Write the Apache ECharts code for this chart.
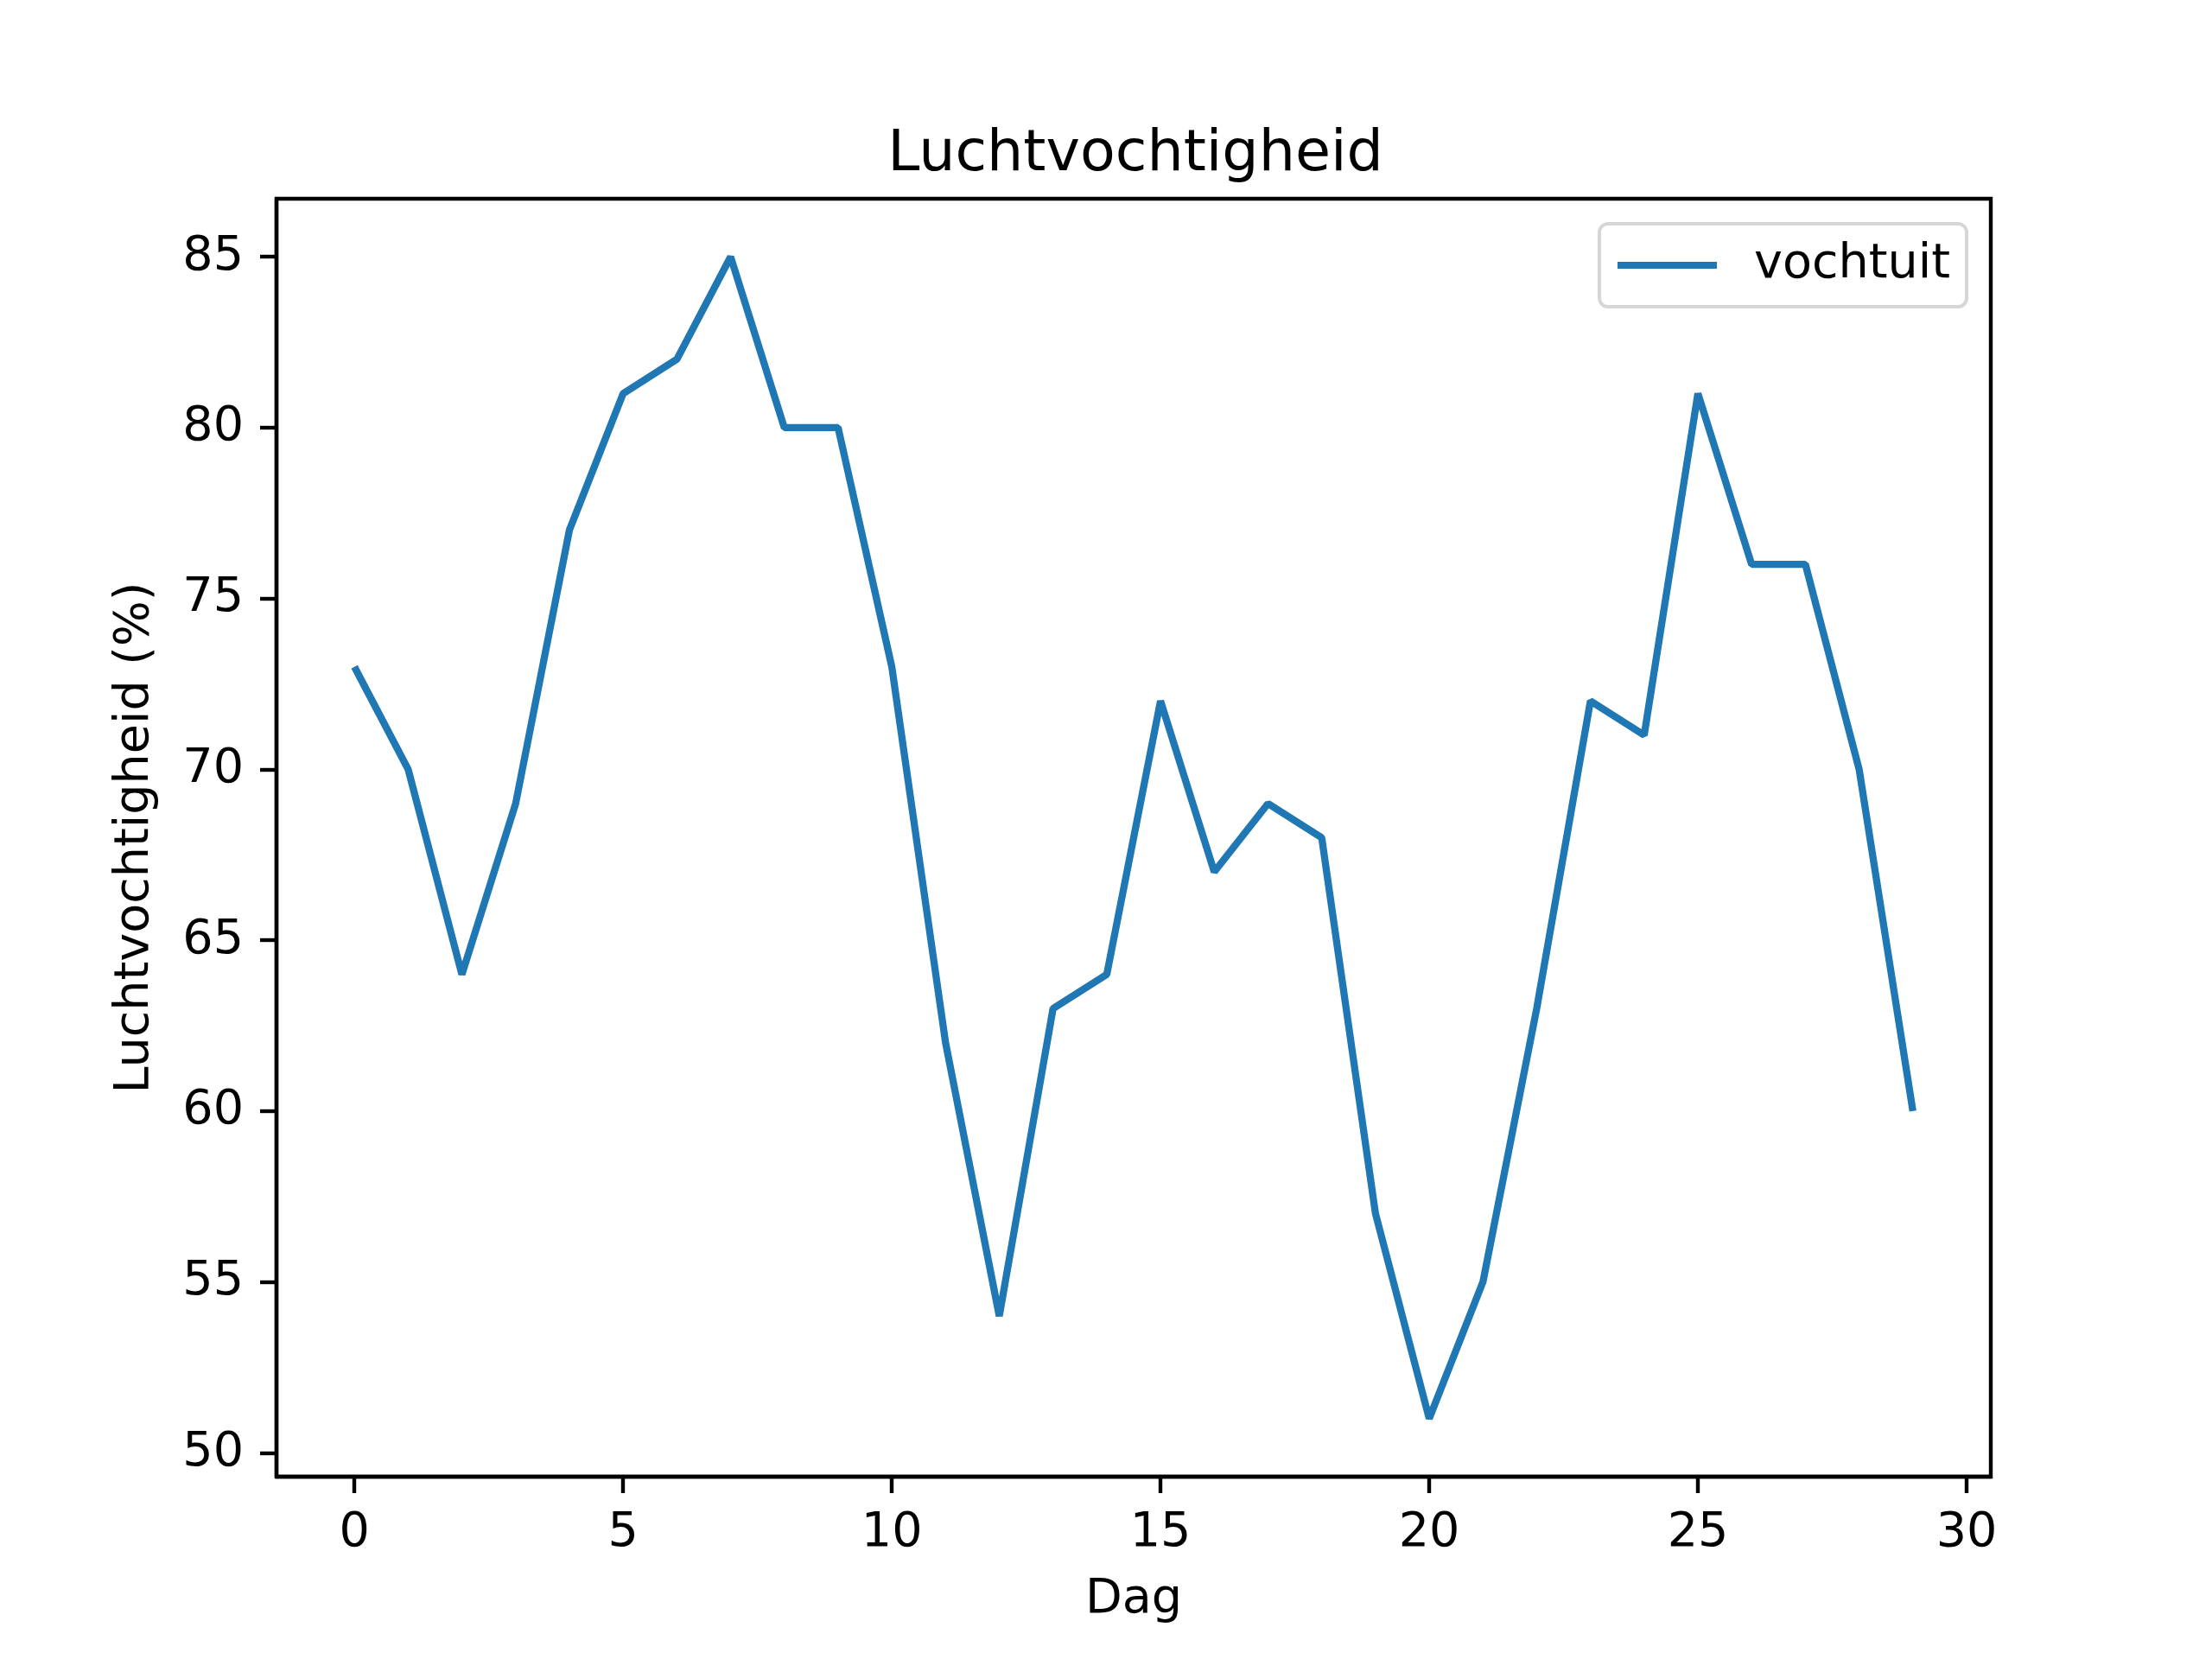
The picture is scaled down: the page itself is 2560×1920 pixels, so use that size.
<!DOCTYPE html>
<html><head><meta charset="utf-8">
<script src="https://cdn.jsdelivr.net/npm/echarts@6/dist/echarts.min.js"></script>
<style>html,body{margin:0;padding:0;background:#fff}#c{width:2560px;height:1920px}</style>
</head><body><div id="c"></div>
<script>
const days = [0,1,2,3,4,5,6,7,8,9,10,11,12,13,14,15,16,17,18,19,20,21,22,23,24,25,26,27,28,29];
const vochtuit = [73,70,64,69,77,81,82,85,80,80,73,62,54,63,64,72,67,69,68,57,51,55,63,72,71,81,76,76,70,60];
const xTicks = [0,5,10,15,20,25,30];
const yTicks = [50,55,60,65,70,75,80,85];

const F = 'DejaVu Sans';
const chart = echarts.init(document.getElementById('c'), null, {renderer:'canvas'});
chart.setOption({
  backgroundColor:'#fff',
  animation:false,
  title:{text:'Luchtvochtigheid', left:1309, textAlign:'center', top:141,
    textStyle:{fontFamily:F, fontSize:66.7, fontWeight:'normal', color:'#000'}},
  legend:{show:true, right:284, top:259, orient:'vertical',
    data:[{name:'vochtuit', icon:'rect'}],
    itemWidth:115, itemHeight:8,
    padding:[20,19,20,21],
    borderColor:'#d6d6d6', borderWidth:4, borderRadius:10, backgroundColor:'#fff',
    textStyle:{fontFamily:F, fontSize:55.6, color:'#000', padding:[0,0,0,38]}},
  grid:{left:320, right:256, top:230, bottom:211, show:true, borderColor:'#000', borderWidth:4.4, backgroundColor:'transparent'},
  xAxis:{type:'value', min:-1.45, max:30.45,
    name:'Dag', nameLocation:'middle', nameGap:115,
    nameTextStyle:{fontFamily:F, fontSize:55.6, color:'#000'},
    splitLine:{show:false}, axisLine:{show:true, onZero:false, lineStyle:{color:'#000', width:4.4}},
    axisTick:{show:true, customValues:xTicks, length:19, lineStyle:{color:'#000', width:4.4}},
    axisLabel:{customValues:xTicks, fontFamily:F, fontSize:55.6, color:'#000', margin:38}},
  yAxis:{type:'value', min:49.3, max:86.7,
    name:'Luchtvochtigheid (%)', nameLocation:'middle', nameGap:135, nameRotate:90,
    nameTextStyle:{fontFamily:F, fontSize:55.6, color:'#000'},
    splitLine:{show:false}, axisLine:{show:true, onZero:false, lineStyle:{color:'#000', width:4.4}},
    axisTick:{show:true, customValues:yTicks, length:19, lineStyle:{color:'#000', width:4.4}},
    axisLabel:{customValues:yTicks, fontFamily:F, fontSize:55.6, color:'#000', margin:38}},
  series:[{name:'vochtuit', type:'line', symbol:'none', color:'#1f77b4',
    lineStyle:{width:8.3, color:'#1f77b4'},
    data: days.map((d,i)=>[d, vochtuit[i]])}]
});
</script></body></html>
